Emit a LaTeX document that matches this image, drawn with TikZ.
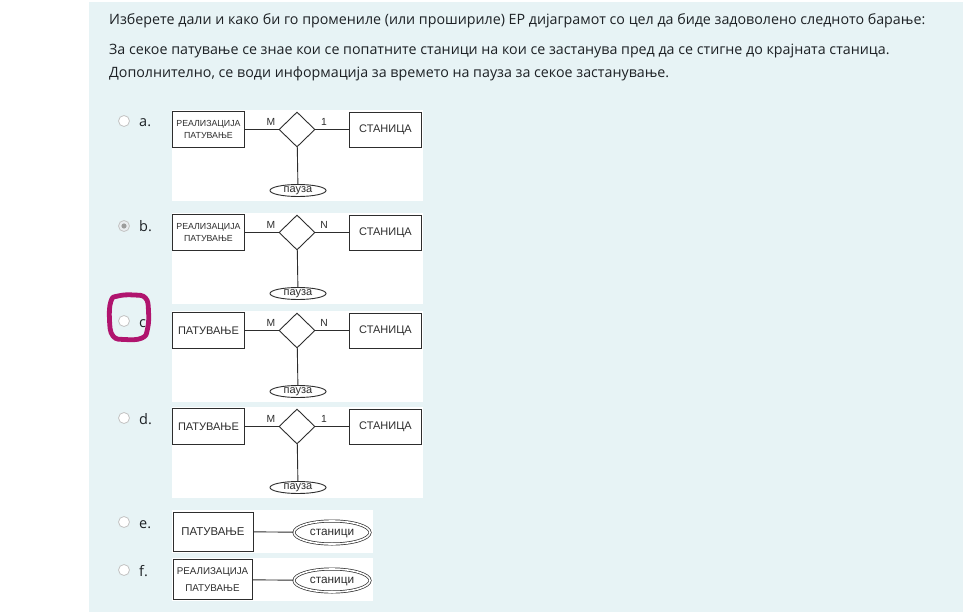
\documentclass[tikz,border=0pt]{standalone}
\usepackage{fontspec}
\setmainfont{Open Sans}
\newfontfamily\arialf{Liberation Sans}
\usetikzlibrary{shapes.geometric}
\definecolor{panel}{RGB}{231,243,245}
\definecolor{txt}{RGB}{29,33,37}
\definecolor{pinkmark}{RGB}{176,20,110}
\definecolor{radiob}{RGB}{195,195,195}
\definecolor{diag}{RGB}{45,45,45}
\newcommand{\erdia}[5]{%
  \fill[white] (172,#2) rectangle (423,#2+91);
  \node[#4, minimum width=72, minimum height=36] (#1L) at (208.5,#2+19.5) {#3};
  \node[rel] (#1R) at (297,#2+19.5) {};
  \node[ent, minimum width=72, minimum height=35] (#1S) at (385.5,#2+19.5) {СТАНИЦА};
  \node[attr] (#1P) at (298,#2+80.5) {пауза};
  \draw[conn] (#1L) -- (#1R);
  \draw[conn] (#1R) -- (#1S);
  \draw[conn] (#1R) -- (#1P);
  \node[card] (#1M) at (271,#2+12) {M};
  \node[card] (#1C) at (324,#2+12) {#5};
}
\begin{document}
\begin{tikzpicture}[x=1pt,y=-1pt,
  ent/.style={draw=diag, line width=0.9pt, fill=white, inner sep=0pt, align=center, text=diag, font=\arialf\fontsize{11}{13}\selectfont},
  entsmall/.style={ent, font=\arialf\fontsize{8.8}{11.7}\selectfont},
  entsmallf/.style={ent, font=\arialf\fontsize{9.8}{16.5}\selectfont},
  rel/.style={draw=diag, line width=0.9pt, fill=white, diamond, inner sep=0pt, minimum width=36, minimum height=35},
  attr/.style={draw=diag, line width=0.9pt, fill=white, ellipse, inner sep=0pt, minimum width=56, minimum height=12, text height=5.7pt, text depth=0.8pt, text=diag, font=\arialf\fontsize{11}{12}\selectfont},
  wattr/.style={draw=diag, line width=0.7pt, double=white, double distance=1.6pt, ellipse, inner sep=0pt, text height=6pt, text depth=0.8pt, text=diag, font=\arialf\fontsize{11.8}{13}\selectfont},
  conn/.style={draw=diag, line width=0.9pt},
  card/.style={inner sep=0pt, text=diag, font=\arialf\fontsize{10.3}{12}\selectfont},
  radio/.style={circle, draw=radiob, line width=0.8pt, fill=white, minimum size=11, inner sep=0pt},
  opt/.style={inner sep=0pt, anchor=base west, text=txt, font=\fontsize{14.5}{17}\selectfont},
  qtext/.style={inner sep=0pt, anchor=base west, text=txt, font=\fontsize{14.25}{17}\selectfont}
]
\useasboundingbox (0,0) rectangle (963,612);
\fill[white] (0,0) rectangle (963,612);
\fill[panel] (89,2) rectangle (963,612);

% question
\node[qtext] (q1) at (109,25) {Изберете дали и како би го промениле (или прошириле) ЕР дијаграмот со цел да биде задоволено следното барање:};
\node[qtext] (q2) at (109,55) {За секое патување се знае кои се попатните станици на кои се застанува пред да се стигне до крајната станица.};
\node[qtext] (q3) at (109,78) {Дополнително, се води информација за времето на пауза за секое застанување.};

% radio buttons and option letters
\node[radio] (ra) at (124,121) {};
\node[radio, fill={rgb,255:red,233;green,236;blue,239}] (rb) at (124,226) {};
\fill[radiob!80!black] (rb.center) circle (2.6);
\node[radio] (rc) at (124,321) {};
\node[radio] (rd) at (124,418) {};
\node[radio] (re) at (124,522) {};
\node[radio] (rf) at (124,570) {};
\node[opt] (la) at (139,127) {a.};
\node[opt] (lb) at (139,232) {b.};
\node[opt] (lc) at (139,327) {c.};
\node[opt] (ld) at (139,424) {d.};
\node[opt] (le) at (139,528) {e.};
\node[opt] (lf) at (139,576) {f.};

% diagrams a-d
\erdia{a}{110}{РЕАЛИЗАЦИЈА\\ПАТУВАЊЕ}{entsmall}{1}
\erdia{b}{213}{РЕАЛИЗАЦИЈА\\ПАТУВАЊЕ}{entsmall}{N}
\erdia{c}{311}{ПАТУВАЊЕ}{ent}{N}
\erdia{d}{407}{ПАТУВАЊЕ}{ent}{1}

% diagram e
\fill[white] (172,510) rectangle (373,553);
\node[ent, minimum width=80, minimum height=39, font=\arialf\fontsize{11.4}{13}\selectfont] (eL) at (213,531.5) {ПАТУВАЊЕ};
\node[wattr, minimum width=76, minimum height=23] (eW) at (332,532.5) {станици};
\draw[conn] (eL) -- (eW);

% diagram f
\fill[white] (172,558) rectangle (373,601);
\node[entsmallf, minimum width=79, minimum height=40] (fL) at (212.5,579.5) {РЕАЛИЗАЦИЈА\\ПАТУВАЊЕ};
\node[wattr, minimum width=76, minimum height=23] (fW) at (332,580.5) {станици};
\draw[conn] (fL) -- (fW);

% pink hand-drawn mark around option c
\draw[pinkmark, line width=4.8pt, line join=round, line cap=round]
  plot[smooth cycle, tension=0.75] coordinates {(111,301) (118,296) (134,295) (145.5,298) (148.5,311) (147.5,329) (142,338) (125,339.5) (113,336) (109.5,320)};
\end{tikzpicture}
\end{document}
